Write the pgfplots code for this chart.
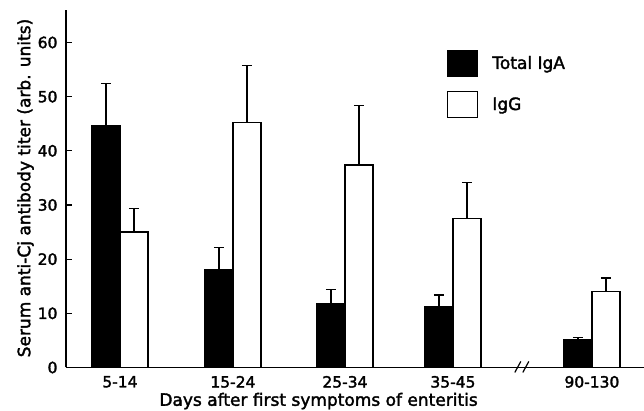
\documentclass[border=0pt]{standalone}
\usepackage{fontspec}
\setmainfont{DejaVu Sans}[FakeBold=2.0]
\usepackage{pgfplots}
\pgfplotsset{compat=1.18}
\pgfplotsset{boxlegend/.style={legend image code/.code={\draw[##1, line width=1.3pt] (0pt,-13pt) rectangle (30pt,13pt);}}}
\begin{document}
\begin{tikzpicture}
\begin{axis}[
  scale only axis, width=578pt, height=357.5pt,
  xmin=-0.486, xmax=4.721, ymin=0, ymax=66,
  axis lines=left, axis line style={-, line width=1.5pt, black},
  ybar=0pt, bar width=28pt,
  xtick={0,1.018,2.027,3,4.252},
  xticklabels={5-14,15-24,25-34,35-45,90-130},
  x tick style={draw=none},
  ytick={0,10,...,60},
  y tick style={line width=1.3pt, black},
  tick align=inside, major tick length=6pt,
  /pgf/number format/assume math mode=true,
  ticklabel style={font=\fontsize{15.5}{18}\selectfont},
  xticklabel style={yshift=-5pt},
  yticklabel style={xshift=-5pt},
  xlabel={Days after first symptoms of enteritis},
  ylabel={Serum anti-Cj antibody titer (arb. units)},
  label style={font=\fontsize{17}{20}\selectfont},
  xlabel style={at={(axis description cs:0.437,-0.094)}, anchor=center},
  ylabel style={at={(axis description cs:-0.0700,0.502)}, anchor=center},
  legend style={at={(axis description cs:0.659,0.89)}, anchor=north west, draw=none, fill=none,
    inner sep=0pt, row sep=14pt, column sep=12pt, font=\fontsize{17}{20}\selectfont},
  legend cell align=left,
  clip=false,
]
\addplot[fill=black, draw=black, line width=1.3pt, boxlegend,
  error bars/.cd, y dir=plus, y explicit,
  error mark=-,
  error bar style={line width=1.3pt, black},
  error mark options={rotate=90, line width=1.3pt, mark size=5pt, black}]
coordinates {(0,44.7) +- (0,7.7) (1.018,18.0) +- (0,4.2) (2.027,11.7) +- (0,2.7) (3,11.2) +- (0,2.2) (4.252,5.1) +- (0,0.5)};
\addlegendentry{Total IgA}
\addplot[fill=white, draw=black, line width=1.3pt, boxlegend,
  error bars/.cd, y dir=plus, y explicit,
  error mark=-,
  error bar style={line width=1.3pt, black},
  error mark options={rotate=90, line width=1.3pt, mark size=5pt, black}]
coordinates {(0,25.0) +- (0,4.4) (1.018,45.2) +- (0,10.5) (2.027,37.4) +- (0,11.0) (3,27.5) +- (0,6.7) (4.252,14.0) +- (0,2.5)};
\addlegendentry{IgG}
\draw[line width=1.2pt] (axis cs:3.62,0) ++(-7pt,-5pt) -- ++(6pt,11pt);
\draw[line width=1.2pt] (axis cs:3.62,0) ++(1pt,-5pt) -- ++(6pt,11pt);
\end{axis}
\path (current axis.south west) ++(-66pt,-43.5pt) coordinate (bl);
\path (current axis.north east) ++(0pt,10pt) coordinate (tr);
\pgfresetboundingbox
\path[use as bounding box] (bl) rectangle (tr);
\end{tikzpicture}
\end{document}
